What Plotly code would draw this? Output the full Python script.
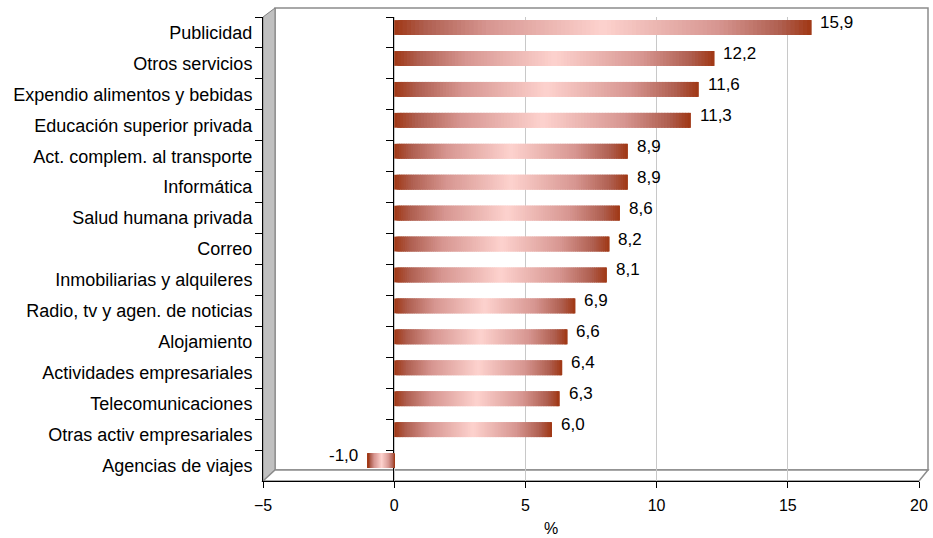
import plotly.graph_objects as go

categories = [
    "Publicidad", "Otros servicios", "Expendio alimentos y bebidas",
    "Educación superior privada", "Act. complem. al transporte", "Informática",
    "Salud humana privada", "Correo", "Inmobiliarias y alquileres",
    "Radio, tv y agen. de noticias", "Alojamiento", "Actividades empresariales",
    "Telecomunicaciones", "Otras activ empresariales", "Agencias de viajes",
]
values = [15.9, 12.2, 11.6, 11.3, 8.9, 8.9, 8.6, 8.2, 8.1, 6.9, 6.6, 6.4, 6.3, 6.0, -1.0]
x_ticks = [-5, 0, 5, 10, 15, 20]

FONT = "Liberation Sans, Arial, sans-serif"
N = 100  # gradient slices per bar


def grad_color(t):
    d = abs(t - 0.5) * 2  # 0 at centre, 1 at ends
    stops = [(0.0, (253, 210, 206)), (0.55, (215, 150, 145)), (0.85, (175, 95, 80)), (1.0, (160, 55, 20))]
    for (a, ca), (b, cb) in zip(stops[:-1], stops[1:]):
        if d <= b:
            f = (d - a) / (b - a) if b > a else 0
            c = [round(ca[i] + (cb[i] - ca[i]) * f) for i in range(3)]
            return f"rgb({c[0]},{c[1]},{c[2]})"
    return "rgb(160,55,20)"


fig = go.Figure()

# back wall grid axis (dummy trace to activate)
fig.add_trace(go.Scatter(x=[None], y=[None], xaxis="x2", yaxis="y3", showlegend=False, hoverinfo="skip"))

for k in range(N):
    t = (k + 0.5) / N
    seg = min(2.5 / N, 1 - k / N)
    fig.add_trace(go.Bar(
        y=categories,
        x=[v * seg for v in values],
        base=[v * k / N for v in values],
        orientation="h",
        xaxis="x3",
        marker=dict(color=grad_color(t), line=dict(width=0)),
        width=0.48,
        offset=-0.40,
        showlegend=False,
        hoverinfo="skip",
    ))

# zero-axis ticks trace
fig.add_trace(go.Scatter(x=[0] * len(categories), y=categories, xaxis="x", yaxis="y2",
                         mode="markers", marker=dict(opacity=0), showlegend=False, hoverinfo="skip"))

annotations = []
for c, v in zip(categories, values):
    txt = f"{v:.1f}".replace(".", ",")
    annotations.append(dict(
        x=v, y=c, xref="x3", yref="y", text=txt, showarrow=False,
        xanchor="left" if v >= 0 else "right", xshift=7 if v >= 0 else -8, yshift=10,
        font=dict(family=FONT, size=17, color="black"),
    ))

# geometry (paper = 665 x 473 px, origin at page (263, 481))
PW, PH = 665, 473
YT = (481 - 17) / PH  # main y domain top
XR = 656 / PW  # main x domain right
BX = 12 / PW
BY = (481 - 470) / PH

annotations.append(dict(x=(551 - 263) / PW, y=-(528 - 481) / PH, xref="paper", yref="paper", text="%",
                        showarrow=False, font=dict(family=FONT, size=16, color="black"),
                        yanchor="middle", xanchor="center"))

shapes = [
    # back wall border
    dict(type="rect", xref="paper", yref="paper", x0=BX, x1=1, y0=BY, y1=1,
         line=dict(color="#8c8c8c", width=1.5), layer="below"),
    # left wall
    dict(type="path", xref="paper", yref="paper",
         path=f"M 0 {YT} L {BX} 1 L {BX} {BY} L 0 0 Z",
         fillcolor="#c0c0c0", line=dict(color="#808080", width=1), layer="below"),
    # floor
    dict(type="path", xref="paper", yref="paper",
         path=f"M 0 0 L {BX} {BY} L 1 {BY} L {XR} 0 Z",
         fillcolor="white", line=dict(color="#8c8c8c", width=1.5), layer="below"),
]

fig.update_layout(
    width=933, height=538,
    margin=dict(l=263, r=5, t=8, b=57, autoexpand=False),
    paper_bgcolor="white", plot_bgcolor="rgba(0,0,0,0)",
    barmode="overlay",
    font=dict(family=FONT, size=16, color="black"),
    xaxis=dict(domain=[0, XR], range=[-5, 20], tickvals=x_ticks, showgrid=False, zeroline=False,
               showline=True, linecolor="black", linewidth=1, ticks="outside", ticklen=6,
               tickcolor="black", anchor="y", tickfont=dict(size=16), ticklabelstandoff=4,
               automargin=False),
    xaxis2=dict(domain=[BX, 1], range=[-5, 20], anchor="y3", overlaying="x",
                showgrid=True, gridcolor="#c8c8c8", gridwidth=1, tickvals=x_ticks,
                showticklabels=False, ticks="", zeroline=False, showline=False, automargin=False),
    xaxis3=dict(domain=[3 / PW, 1], range=[-5, 20], anchor="y", overlaying="x",
                showgrid=False, showticklabels=False, ticks="", zeroline=False, showline=False,
                automargin=False),
    yaxis=dict(domain=[0, YT], type="category", categoryorder="array", categoryarray=categories,
               range=[14.5, -0.5], tickson="boundaries", ticks="outside", ticklen=7,
               tickcolor="black", showline=True, linecolor="black", linewidth=1,
               showgrid=False, zeroline=False, tickfont=dict(size=18), anchor="x",
               ticklabelstandoff=6, automargin=False),
    yaxis2=dict(domain=[0, YT], type="category", categoryorder="array", categoryarray=categories,
                range=[14.5, -0.5], tickson="boundaries", ticks="outside", ticklen=7,
                tickcolor="black", showline=True, linecolor="black", linewidth=1.5,
                showticklabels=False, showgrid=False, zeroline=False, overlaying="y",
                anchor="free", position=0.2 * XR, automargin=False),
    yaxis3=dict(domain=[BY, 1], range=[0, 1], showgrid=False, showticklabels=False,
                zeroline=False, showline=False, ticks="", anchor="x2", overlaying="y",
                automargin=False),
    annotations=annotations,
    shapes=shapes,
)

fig.write_html("out.html", config={"displayModeBar": False},
               post_script="document.body.style.margin='0';document.body.style.overflow='hidden';")
